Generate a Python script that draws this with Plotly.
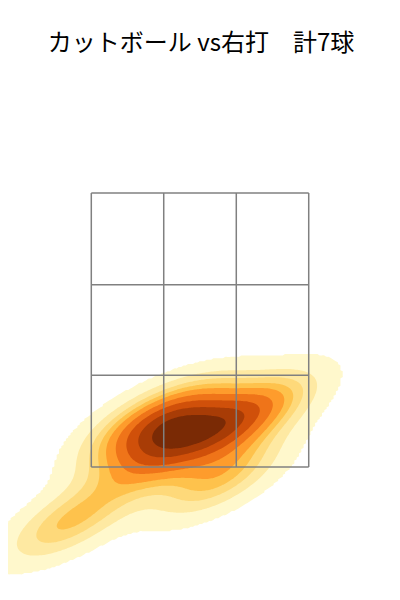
import numpy as np
import plotly.graph_objects as go

TITLE = "カットボール vs右打　計7球"

# pitch locations (ft): horizontal plate_x, vertical plate_z
PLATE_X = [-0.45, -0.15, 0.10, -0.30, 0.45, -1.00, 0.15]
PLATE_Z = [1.80, 1.88, 1.75, 1.60, 1.92, 1.10, 1.42]

ZONE_X = [-0.83, -0.277, 0.277, 0.83]
ZONE_Z = [1.5, 2.17, 2.83, 3.5]

BAND_COLORS = [
    "#fff8cc", "#fee9a2", "#fed97a", "#fec24c", "#fe9c2c",
    "#ef7419", "#d0500a", "#a83c06", "#7a2a05",
]


def kde_grid(xs, zs, gridsize=200, cut=3):
    data = np.vstack([xs, zs])
    n = data.shape[1]
    factor = n ** (-1 / 6)
    cov = np.cov(data) * factor ** 2
    inv = np.linalg.inv(cov)
    norm = 1 / (2 * np.pi * np.sqrt(np.linalg.det(cov)) * n)
    bw = np.sqrt(np.diag(cov))
    gx = np.linspace(data[0].min() - cut * bw[0], data[0].max() + cut * bw[0], gridsize)
    gz = np.linspace(data[1].min() - cut * bw[1], data[1].max() + cut * bw[1], gridsize)
    xx, zz = np.meshgrid(gx, gz)
    dens = np.zeros_like(xx)
    for px, pz in zip(xs, zs):
        dx, dz = xx - px, zz - pz
        q = inv[0, 0] * dx * dx + 2 * inv[0, 1] * dx * dz + inv[1, 1] * dz * dz
        dens += np.exp(-0.5 * q)
    return gx, gz, dens * norm


def iso_levels(dens, n_levels=10, thresh=0.05):
    vals = np.sort(dens.ravel())[::-1]
    cum = np.cumsum(vals) / vals.sum()
    idx = np.searchsorted(cum, 1 - np.linspace(thresh, 1, n_levels))
    return np.take(vals, idx, mode="clip")[::-1]


gx, gz, dens = kde_grid(PLATE_X, PLATE_Z)
levels = np.sort(iso_levels(dens))
band = np.interp(dens, levels, np.arange(1, len(levels) + 1)) - 1
band[dens < levels[0]] = -1

n = len(BAND_COLORS)
colorscale = [[0.0, "rgba(255,255,255,0)"], [1 / (n + 1), "rgba(255,255,255,0)"]]
for i, c in enumerate(BAND_COLORS):
    colorscale.append([(i + 1) / (n + 1), c])
    colorscale.append([(i + 2) / (n + 1), c])

fig = go.Figure()
fig.add_trace(go.Contour(
    x=gx, y=gz, z=band,
    zmin=-1, zmax=n,
    colorscale=colorscale,
    contours=dict(start=0, end=n - 1, size=1, coloring="fill", showlines=False),
    line=dict(width=0),
    showscale=False,
    hoverinfo="skip",
))

for xv in ZONE_X:
    fig.add_shape(type="line", x0=xv, x1=xv, y0=ZONE_Z[0], y1=ZONE_Z[-1],
                  line=dict(color="#808080", width=1.5))
for zv in ZONE_Z:
    fig.add_shape(type="line", x0=ZONE_X[0], x1=ZONE_X[-1], y0=zv, y1=zv,
                  line=dict(color="#808080", width=1.5))

fig.update_layout(
    width=400, height=600,
    margin=dict(l=0, r=0, t=0, b=0),
    paper_bgcolor="white", plot_bgcolor="white",
    title=dict(text=TITLE, x=0.4825, xanchor="center", y=1 - 35 / 600, yanchor="middle",
               font=dict(family="Noto Sans CJK JP", size=24, color="black")),
    xaxis=dict(range=[-1.466, 1.588], visible=False, fixedrange=True),
    yaxis=dict(range=[0.471, 4.850], visible=False, fixedrange=True),
    showlegend=False,
)

fig.write_html("out.html")
